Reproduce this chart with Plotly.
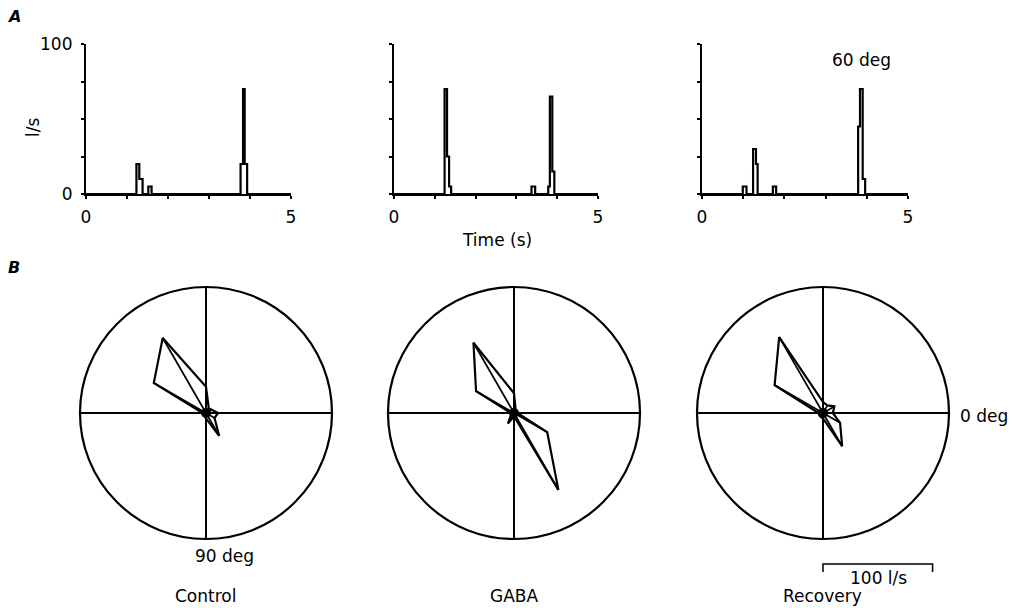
import plotly.graph_objects as go

W, H = 1017, 608
OFF = 8  # the page body adds an 8 px margin around the figure

# ---------------- Data: panel A (peristimulus histograms, 60 deg) ----------------
time_ticks = [0, 1, 2, 3, 4, 5]
time_ticktext = ["0", "", "", "", "", "5"]
rate_ticks = [0, 25, 50, 75, 100]

control_t = [0, 1.23, 1.30, 1.38, 1.52, 1.60, 3.77, 3.83, 3.87, 3.93, 5.0]
control_rate = [0, 20, 10, 0, 5, 0, 20, 70, 20, 0, 0]

gaba_t = [0, 1.24, 1.30, 1.35, 1.40, 3.37, 3.46, 3.78, 3.82, 3.88, 3.93, 5.0]
gaba_rate = [0, 70, 25, 5, 0, 5, 0, 5, 65, 15, 0, 0]

recovery_t = [0, 0.99, 1.08, 1.24, 1.31, 1.35, 1.72, 1.80, 3.79, 3.835, 3.90, 3.96, 5.0]
recovery_rate = [0, 5, 0, 30, 20, 0, 5, 0, 45, 70, 10, 0, 0]

# ---------------- Data: panel B (directional tuning, l/s) ----------------
directions = [0, 30, 60, 90, 120, 150, 180, 210, 240, 270, 300, 330]
control_dir = [11, 9, 24, 5, 3, 3, 3, 55, 79, 24, 5, 6]
gaba_dir = [3, 35, 81, 3, 11, 3, 3, 40, 74, 18, 3, 3]
recovery_dir = [9, 18, 35, 5, 4, 4, 4, 51, 80, 10, 8, 12]
R_MAX = 115          # radial extent of the outer circle (l/s)
SCALE_BAR = 100      # l/s

FONT = "DejaVu Sans, Liberation Sans, sans-serif"
FS = 17


def px(x):
    return (x - OFF) / W


def py(y):
    return 1 - (y - OFF) / H


fig = go.Figure()

# ---------------- Panel A ----------------
a_xpx = [(86, 291), (394, 598), (702, 908)]
a_ypx = (44, 194)
a_series = [(control_t, control_rate), (gaba_t, gaba_rate), (recovery_t, recovery_rate)]

for i, ((x0, x1), (tt, rr)) in enumerate(zip(a_xpx, a_series)):
    n = i + 1
    xa = "x" if n == 1 else f"x{n}"
    ya = "y" if n == 1 else f"y{n}"
    fig.add_trace(go.Scatter(x=tt, y=rr, mode="lines", line=dict(color="black", width=2.2, shape="hv"),
                             xaxis=xa, yaxis=ya, showlegend=False, hoverinfo="skip"))
    xkey = "xaxis" if n == 1 else f"xaxis{n}"
    ykey = "yaxis" if n == 1 else f"yaxis{n}"
    fig.layout[xkey] = dict(domain=[px(x0), px(x1)], range=[0, 5], anchor=ya, automargin=False,
                            showline=True, linecolor="black", linewidth=2.2, showgrid=False, zeroline=False,
                            ticks="outside", ticklen=3, tickwidth=2, tickcolor="black",
                            tickvals=time_ticks, ticktext=time_ticktext, ticklabelstandoff=3,
                            tickfont=dict(family=FONT, size=FS, color="black"))
    fig.layout[ykey] = dict(domain=[py(a_ypx[1]), py(a_ypx[0])], range=[0, 100], anchor=xa,
                            automargin=False,
                            showline=True, linecolor="black", linewidth=2.2, showgrid=False, zeroline=False,
                            ticks="outside", ticklen=3, tickwidth=2, tickcolor="black",
                            tickvals=rate_ticks,
                            ticktext=(["0", "", "", "", "100"] if n == 1 else [""] * 5),
                            ticklabelstandoff=5,
                            tickfont=dict(family=FONT, size=FS, color="black"))

# ---------------- Panel B ----------------
centers = [206, 514, 823]
cy = 413
rad_px = 126
b_series = [control_dir, gaba_dir, recovery_dir]

for i, (cx, vals) in enumerate(zip(centers, b_series)):
    n = i + 1
    pk = "polar" if n == 1 else f"polar{n}"
    # closed polygon
    fig.add_trace(go.Scatterpolar(r=vals + [vals[0]], theta=directions + [directions[0]], mode="lines",
                                  line=dict(color="black", width=2.2), subplot=pk,
                                  showlegend=False, hoverinfo="skip"))
    # spokes from the centre to each response
    sr, st = [], []
    for d, v in zip(directions, vals):
        sr += [0, v, None]
        st += [d, d, None]
    fig.add_trace(go.Scatterpolar(r=sr, theta=st, mode="lines", connectgaps=False,
                                  line=dict(color="black", width=1.7), subplot=pk,
                                  showlegend=False, hoverinfo="skip"))
    # centre blob
    fig.add_trace(go.Scatterpolar(r=[0], theta=[0], mode="markers",
                                  marker=dict(color="black", size=10), subplot=pk,
                                  showlegend=False, hoverinfo="skip"))
    fig.layout[pk] = dict(
        domain=dict(x=[px(cx - rad_px), px(cx + rad_px)],
                    y=[py(cy + rad_px), py(cy - rad_px)]),
        bgcolor="white",
        radialaxis=dict(visible=False, range=[0, R_MAX]),
        angularaxis=dict(rotation=0, direction="clockwise", showline=True, linecolor="black",
                         linewidth=2.2, showgrid=True, gridcolor="black", gridwidth=1.7,
                         tickmode="array", tickvals=[0, 90, 180, 270], showticklabels=False,
                         ticks=""),
    )

# ---------------- Text ----------------
def ann(text, x, y, size=FS, italic=False, xanchor="center", angle=0):
    t = f"<i><b>{text}</b></i>" if italic else text
    fig.add_annotation(text=t, x=px(x), y=py(y), xref="paper", yref="paper", showarrow=False,
                       xanchor=xanchor, yanchor="middle", textangle=angle,
                       font=dict(family=FONT, size=size, color="black"))

ann("A", 14, 16, size=16, italic=True)
ann("B", 14, 268, size=16, italic=True)
ann("l/s", 33, 128, angle=-90)
ann("Time (s)", 497, 240)
ann("60 deg", 861, 60)
ann("90 deg", 224, 556)
ann("0 deg", 984, 416)
ann("100 l/s", 878, 578)
ann("Control", 205, 596)
ann("GABA", 514, 596)
ann("Recovery", 822, 596)

# scale bar (100 l/s at the radial scale of the polar plots)
bar_len = SCALE_BAR * rad_px / R_MAX
bx0 = centers[2]
bx1 = bx0 + bar_len
by, bdrop = 564, 8
fig.add_shape(type="path", xref="paper", yref="paper",
              path=f"M {px(bx0)} {py(by + bdrop)} L {px(bx0)} {py(by)} "
                   f"L {px(bx1)} {py(by)} L {px(bx1)} {py(by + bdrop)}",
              line=dict(color="black", width=1.5))

fig.update_layout(template="none", width=W, height=H, autosize=False,
                  margin=dict(l=0, r=0, t=0, b=0, pad=0),
                  paper_bgcolor="white", plot_bgcolor="white", showlegend=False)

fig.write_html("out.html")
